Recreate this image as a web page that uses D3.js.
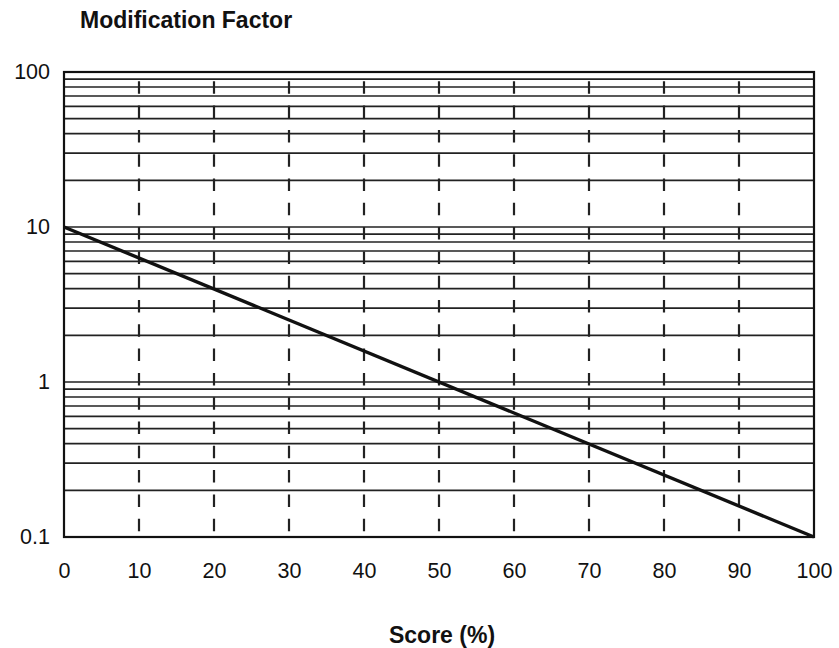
<!DOCTYPE html>
<html>
<head>
<meta charset="utf-8">
<script src="https://cdn.jsdelivr.net/npm/d3@7/dist/d3.min.js"></script>
<style>
	body { margin: 0; background: #fff; }
	text { font-family: "Liberation Sans", Arial, sans-serif; fill: #111; }
</style>
</head>
<body>
<script>
// data
var scores = [0, 100];
var factors = [10, 0.1];
var xTicks = [0, 10, 20, 30, 40, 50, 60, 70, 80, 90, 100];
var yTicks = [0.1, 1, 10, 100];
var yTickLabels = ['0.1', '1', '10', '100'];

var width = 839, height = 648;
var margin = { top: 72, right: 25, bottom: 111, left: 64 };
var w = width - margin.left - margin.right,
	h = height - margin.top - margin.bottom;

var svg = d3.select('body').append('svg')
	.attr('width', width)
	.attr('height', height);

var x = d3.scaleLinear().domain([0, 100]).range([0, w]);
var y = d3.scaleLog().domain([0.1, 100]).range([h, 0]);

var g = svg.append('g')
	.attr('transform', 'translate(' + margin.left + ',' + margin.top + ')');

// horizontal gridlines, 1..9 in every decade
var gridY = [];
[0.1, 1, 10].forEach(function(d) {
	for (var i = 1; i <= 9; i++) gridY.push(d * i);
});
gridY.push(100);

g.selectAll('.hgrid')
	.data(gridY)
	.enter().append('line')
	.attr('class', 'hgrid')
	.attr('x1', 0).attr('x2', w)
	.attr('y1', function(d) { return y(d); })
	.attr('y2', function(d) { return y(d); })
	.attr('stroke', '#222')
	.attr('stroke-width', 1.7);

// dashed verticals
g.selectAll('.vgrid')
	.data(xTicks.slice(1, -1))
	.enter().append('line')
	.attr('class', 'vgrid')
	.attr('x1', function(d) { return x(d); })
	.attr('x2', function(d) { return x(d); })
	.attr('y1', 0).attr('y2', h)
	.attr('stroke', '#222')
	.attr('stroke-width', 2.2)
	.attr('stroke-dasharray', '12.5,11.8')
	.attr('stroke-dashoffset', 15);

// frame
g.append('rect')
	.attr('width', w).attr('height', h)
	.attr('fill', 'none')
	.attr('stroke', '#111')
	.attr('stroke-width', 2.2);

// data line
var line = d3.line()
	.x(function(d) { return x(d[0]); })
	.y(function(d) { return y(d[1]); });
g.append('path')
	.datum(d3.zip(scores, factors))
	.attr('d', line)
	.attr('fill', 'none')
	.attr('stroke', '#111')
	.attr('stroke-width', 3.4);

// axes, labels only
var xAxis = d3.axisBottom(x).tickValues(xTicks).tickSize(0).tickPadding(26);
g.append('g')
	.attr('transform', 'translate(0,' + h + ')')
	.call(xAxis)
	.call(function(s) { s.select('.domain').remove(); })
	.selectAll('text')
	.style('font-size', '21.5px');

var yAxis = d3.axisLeft(y).tickValues(yTicks)
	.tickFormat(function(d, i) { return yTickLabels[i]; })
	.tickSize(0).tickPadding(14);
g.append('g')
	.call(yAxis)
	.call(function(s) { s.select('.domain').remove(); })
	.selectAll('text')
	.style('font-size', '21.5px');

// titles
svg.append('text')
	.attr('x', 80).attr('y', 28)
	.style('font-size', '23px')
	.style('font-weight', 'bold')
	.text('Modification Factor');

svg.append('text')
	.attr('x', 442).attr('y', 643)
	.attr('text-anchor', 'middle')
	.style('font-size', '23px')
	.style('font-weight', 'bold')
	.text('Score (%)');
</script>
</body>
</html>
